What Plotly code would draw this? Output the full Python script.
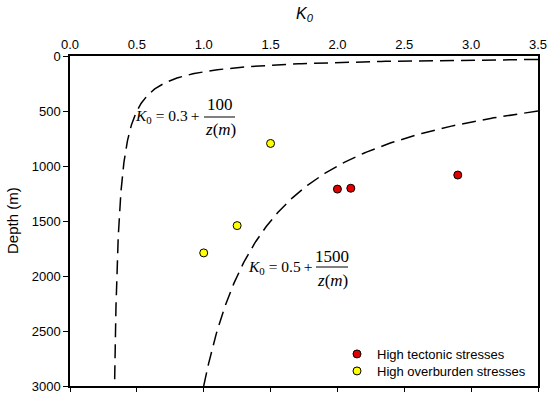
import numpy as np
import plotly.graph_objects as go

# Data
tect_k0 = [2.0, 2.1, 2.9]
tect_depth = [1210, 1202, 1082]
over_k0 = [1.5, 1.25, 1.0]
over_depth = [795, 1542, 1790]

# curve definitions as printed on the chart: K0 = a + b / z
curve1_a, curve1_b = 0.3, 100
curve2_a, curve2_b = 0.5, 1500
depth_grid1 = np.geomspace(31.25, 2950, 300)
depth_grid2 = np.geomspace(500, 3000, 200)

x_ticks = [0.0, 0.5, 1.0, 1.5, 2.0, 2.5, 3.0, 3.5]
y_ticks = [0, 500, 1000, 1500, 2000, 2500, 3000]

L, R, T, B = 70, 12, 56, 9
W, H = 550, 395
PW, PH = W - L - R, H - T - B


def px(x):
    return (x - L) / PW


def py(y):
    return 1 - (y - T) / PH


fig = go.Figure()
dash = "14px,7px"
fig.add_trace(go.Scatter(x=curve1_a + curve1_b / depth_grid1, y=depth_grid1, mode="lines",
                         line=dict(color="black", width=1.5, dash=dash), showlegend=False,
                         hoverinfo="skip"))
fig.add_trace(go.Scatter(x=curve2_a + curve2_b / depth_grid2, y=depth_grid2, mode="lines",
                         line=dict(color="black", width=1.5, dash=dash), showlegend=False,
                         hoverinfo="skip"))
fig.add_trace(go.Scatter(x=tect_k0, y=tect_depth, mode="markers", name="High tectonic stresses",
                         marker=dict(color="#e00000", size=8, line=dict(color="black", width=1)),
                         legend="legend"))
fig.add_trace(go.Scatter(x=over_k0, y=over_depth, mode="markers", name="High overburden stresses",
                         marker=dict(color="#ffff00", size=8, line=dict(color="black", width=1)),
                         legend="legend2"))
# invisible trace carrying the bottom axis ticks
fig.add_trace(go.Scatter(x=[0, 3.5], y=[0, 0], xaxis="x2", mode="markers",
                         marker=dict(opacity=0), showlegend=False, hoverinfo="skip"))

arial = "Arial, Liberation Sans"
tickfont = dict(family=arial, size=13, color="black")
legfont = dict(family=arial, size=13, color="black")
fig.update_layout(
    width=W, height=H,
    margin=dict(l=L, r=R, t=T, b=B),
    paper_bgcolor="white", plot_bgcolor="white",
    xaxis=dict(range=[0, 3.5], side="top", tickvals=x_ticks,
               ticktext=[f"{v:.1f}" for v in x_ticks], ticks="", showgrid=False,
               zeroline=False, showline=True, linecolor="black", linewidth=1.5,
               mirror=True, tickfont=tickfont, automargin=False),
    xaxis2=dict(range=[0, 3.5], overlaying="x", side="bottom", tickvals=x_ticks,
                showticklabels=False, ticks="outside", ticklen=5, tickwidth=1,
                tickcolor="black", showgrid=False, zeroline=False, showline=False,
                automargin=False),
    yaxis=dict(range=[3000, 0], tickvals=y_ticks, ticks="outside", ticklen=5,
               tickwidth=1, tickcolor="black", showgrid=False, zeroline=False,
               showline=True, linecolor="black", linewidth=1.5, mirror=True,
               tickfont=tickfont, automargin=False),
    legend=dict(x=px(337), y=py(354), xanchor="left", yanchor="middle",
                bgcolor="rgba(0,0,0,0)", font=legfont, itemwidth=30),
    legend2=dict(x=px(337), y=py(371), xanchor="left", yanchor="middle",
                 bgcolor="rgba(0,0,0,0)", font=legfont, itemwidth=30),
    showlegend=True,
)

sp = "\u2005"
serif_l = dict(family="Liberation Serif, Times New Roman", size=15.5, color="black")
serif_f = dict(family="Liberation Serif, Times New Roman", size=17, color="black")
ann = [
    dict(text=f"<i>K</i><sub>0</sub>{sp}={sp}0.3\u2009+", x=px(201), y=py(116), xanchor="right",
         font=serif_l),
    dict(text="100", x=px(220), y=py(105), xanchor="center", font=serif_f),
    dict(text="<i>z</i>(<i>m</i>)", x=px(220), y=py(129), xanchor="center", font=serif_f),
    dict(text=f"<i>K</i><sub>0</sub>{sp}={sp}0.5\u2009+", x=px(314), y=py(267), xanchor="right",
         font=serif_l),
    dict(text="1500", x=px(332), y=py(256), xanchor="center", font=serif_f),
    dict(text="<i>z</i>(<i>m</i>)", x=px(332), y=py(280), xanchor="center", font=serif_f),
]
for a in ann:
    fig.add_annotation(xref="paper", yref="paper", yanchor="middle", showarrow=False, **a)
fig.add_annotation(xref="paper", yref="paper", x=px(305), y=py(14), text="<i>K<sub>0</sub></i>",
                   showarrow=False, font=dict(family=arial, size=16, color="black"),
                   xanchor="center", yanchor="middle")
fig.add_annotation(xref="paper", yref="paper", x=px(12), y=py(221), text="Depth (m)",
                   textangle=-90, showarrow=False, font=dict(family=arial, size=15, color="black"),
                   xanchor="center", yanchor="middle")
fig.add_shape(type="line", xref="paper", yref="paper", x0=px(204), x1=px(235), y0=py(117),
              y1=py(117), line=dict(color="black", width=1))
fig.add_shape(type="line", xref="paper", yref="paper", x0=px(316), x1=px(348), y0=py(267),
              y1=py(267), line=dict(color="black", width=1))

fig.write_html("out.html", config={"displayModeBar": False},
               post_script="document.body.style.margin='0';document.body.style.overflow='hidden';")
